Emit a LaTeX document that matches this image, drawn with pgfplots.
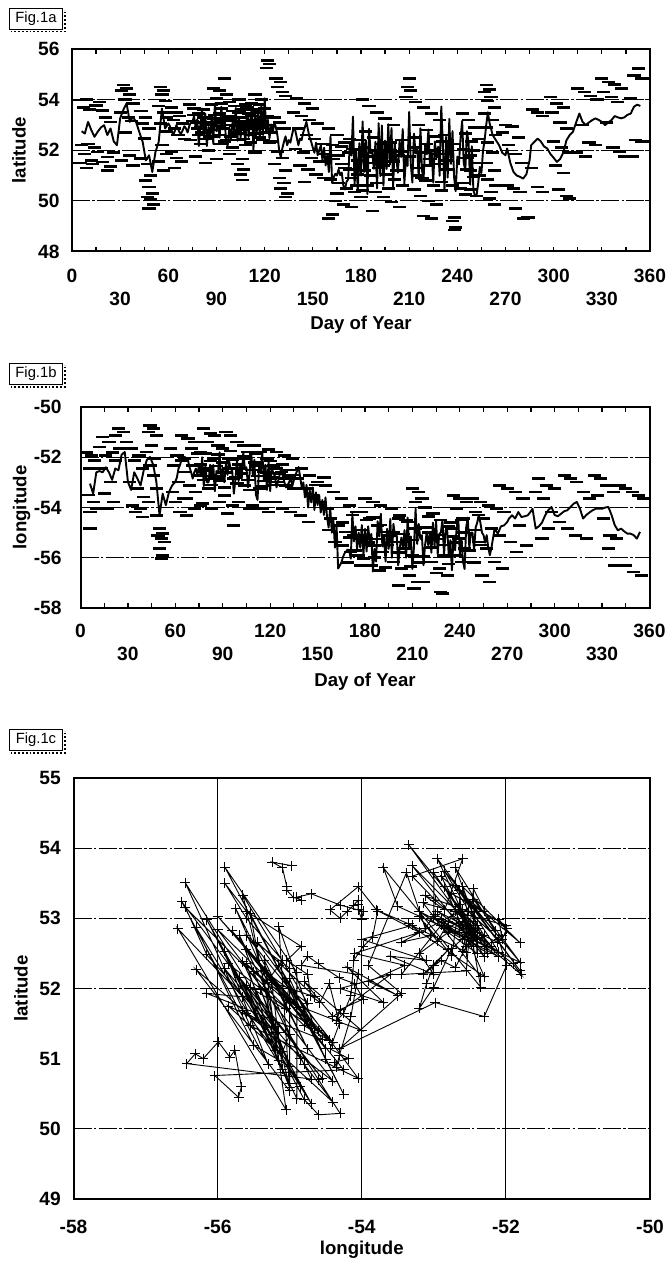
\documentclass[border=0pt]{standalone}
\usepackage{fontspec}
\setmainfont{Liberation Sans}
\usepackage{pgfplots}
\usepackage{pgfplotstable}
\pgfplotsset{compat=1.18}

\newcommand\tickfont{\bfseries\fontsize{9.6}{11}\selectfont}
\newcommand\lblfont{\bfseries\fontsize{9.3}{11}\selectfont}
\newcommand\figfont{\fontsize{7.4}{8.5}\selectfont}

% daily track: day of year, latitude, longitude
\pgfplotstableread[row sep=\\]{
day lat lon\\
6 52.75 -53.05\\ 8 52.66 -53.45\\ 10 53.12 -52.60\\ 12 52.80 -52.55\\ 14 52.53 -52.60\\
16 52.73 -52.40\\ 18 52.90 -52.60\\ 20 52.99 -52.90\\ 22 52.60 -52.45\\ 24 52.86 -52.52\\
26 52.35 -51.90\\ 28 52.20 -51.79\\ 30 53.26 -52.98\\ 32 53.60 -53.30\\ 34 53.85 -52.60\\
36 53.12 -52.85\\ 38 53.32 -53.12\\ 40 53.10 -52.52\\ 42 52.70 -52.10\\ 44 52.33 -51.99\\
46 51.60 -52.30\\ 48 51.80 -52.98\\ 50 51.14 -54.31\\ 52 51.93 -53.45\\ 54 52.33 -53.91\\
56 53.65 -53.38\\ 58 52.86 -53.12\\ 60 53.06 -52.98\\ 61 52.95 -52.80\\ 62 52.80 -52.45\\
63 52.60 -52.30\\ 64 52.75 -52.06\\ 65 52.99 -52.10\\ 66 52.85 -51.99\\ 67 52.70 -52.05\\
68 52.66 -52.12\\ 69 52.80 -52.40\\ 70 52.95 -52.60\\ 71 52.86 -52.85\\ 72 52.70 -52.60\\
73 52.95 -52.45\\ 74 53.10 -52.70\\ 75 53.10 -52.30\\ 76 53.35 -52.75\\ 77 52.90 -52.00\\
78 53.22 -53.15\\ 79 52.17 -52.35\\ 80 53.02 -53.00\\ 81 53.65 -53.00\\ 82 52.60 -52.30\\
83 53.45 -52.85\\ 84 52.17 -52.30\\ 85 52.92 -53.35\\ 86 52.52 -52.55\\ 87 53.40 -52.65\\
88 52.25 -51.80\\ 89 53.85 -52.95\\ 90 52.75 -52.45\\ 91 53.00 -53.00\\ 92 52.50 -52.25\\
93 53.72 -52.70\\ 94 52.82 -52.15\\ 95 53.42 -52.45\\ 96 52.25 -52.55\\ 97 52.20 -53.45\\
98 52.90 -52.90\\ 99 52.45 -52.10\\ 100 53.10 -52.95\\ 101 52.75 -52.30\\ 102 53.67 -52.85\\
103 52.37 -51.80\\ 104 53.27 -52.45\\ 105 52.50 -52.40\\ 106 53.10 -53.20\\ 107 52.80 -52.65\\
108 52.37 -51.80\\ 109 53.47 -52.70\\ 110 52.52 -52.10\\ 111 53.17 -53.50\\ 112 53.72 -53.70\\
113 52.02 -52.35\\ 114 53.45 -52.60\\ 115 52.65 -51.80\\ 116 53.60 -52.90\\ 117 52.45 -52.30\\
118 53.75 -53.30\\ 119 52.60 -52.20\\ 120 54.05 -53.35\\ 121 52.70 -52.40\\ 122 53.20 -52.65\\
123 52.47 -52.75\\ 124 53.02 -53.20\\ 125 52.67 -52.95\\ 126 53.12 -52.70\\ 127 52.90 -52.40\\
128 52.57 -52.75\\ 129 52.02 -53.00\\ 130 51.72 -53.20\\ 131 52.07 -53.10\\ 132 52.33 -53.00\\
133 52.55 -52.80\\ 134 52.20 -53.15\\ 135 52.40 -52.90\\ 136 52.30 -52.70\\ 137 52.60 -52.55\\
138 52.86 -52.39\\ 139 52.80 -52.80\\ 140 52.50 -53.20\\ 141 52.20 -53.00\\ 142 52.46 -53.60\\
143 52.40 -53.10\\ 144 52.70 -54.00\\ 145 52.90 -53.30\\ 146 53.12 -53.80\\ 147 52.80 -53.20\\
148 52.50 -54.10\\ 149 52.33 -53.40\\ 150 52.10 -53.90\\ 151 51.90 -53.50\\ 152 52.30 -54.20\\
153 51.80 -53.70\\ 154 52.00 -54.30\\ 155 52.20 -53.60\\ 156 51.60 -54.40\\ 157 52.10 -54.80\\
158 51.40 -54.00\\ 159 51.80 -55.00\\ 160 51.14 -54.50\\ 161 52.55 -55.60\\ 162 50.71 -54.70\\
163 50.93 -56.43\\ 164 51.07 -56.31\\ 165 51.00 -56.20\\ 166 51.24 -55.99\\ 167 51.02 -55.83\\
168 51.12 -55.76\\ 169 50.60 -55.67\\ 170 50.45 -55.71\\ 171 50.76 -56.04\\ 172 50.84 -54.25\\
173 52.25 -55.35\\ 174 51.79 -54.75\\ 175 53.33 -55.65\\ 176 50.59 -55.00\\ 177 52.05 -55.60\\
178 50.36 -54.70\\ 179 52.28 -55.90\\ 180 51.00 -54.85\\ 181 53.14 -55.75\\ 182 51.14 -54.75\\
183 52.40 -55.35\\ 184 50.27 -55.05\\ 185 52.85 -56.55\\ 186 51.88 -55.65\\ 187 51.93 -56.15\\
188 51.27 -54.55\\ 189 52.33 -55.15\\ 190 50.49 -54.25\\ 191 53.07 -55.55\\ 192 50.98 -55.15\\
193 52.98 -56.15\\ 194 50.60 -54.85\\ 195 52.38 -55.65\\ 196 51.26 -54.45\\ 197 53.03 -56.00\\
198 51.43 -54.65\\ 199 52.88 -55.15\\ 200 50.54 -55.00\\ 201 52.27 -56.30\\ 202 51.65 -55.60\\
203 51.11 -55.20\\ 204 52.35 -55.60\\ 205 51.73 -54.90\\ 206 52.84 -56.00\\ 207 50.68 -54.40\\
208 51.68 -55.65\\ 209 51.38 -55.15\\ 210 53.51 -56.45\\ 211 51.47 -55.55\\ 212 50.72 -54.05\\
213 52.66 -55.45\\ 214 51.88 -54.65\\ 215 52.09 -55.25\\ 216 50.85 -55.10\\ 217 52.87 -56.30\\
218 51.19 -55.50\\ 219 50.89 -55.00\\ 220 52.24 -55.50\\ 221 51.84 -55.00\\ 222 52.82 -55.80\\
223 51.40 -54.60\\ 224 52.02 -55.55\\ 225 50.72 -54.55\\ 226 52.35 -55.85\\ 227 51.72 -55.05\\
228 52.14 -55.00\\ 229 50.99 -54.50\\ 230 53.73 -55.90\\ 231 52.23 -54.90\\ 232 50.43 -54.90\\
233 52.53 -55.90\\ 234 50.92 -55.30\\ 235 53.24 -56.50\\ 236 51.46 -55.20\\ 237 52.76 -55.70\\
238 50.92 -54.80\\ 239 50.38 -54.40\\ 240 51.75 -55.85\\ 241 51.44 -55.25\\ 242 52.48 -56.15\\
243 53.16 -56.45\\ 244 51.47 -54.80\\ 245 51.23 -54.40\\ 246 52.75 -55.60\\ 247 52.29 -55.00\\
248 50.64 -55.00\\ 249 52.16 -55.70\\ 250 50.42 -54.80\\ 251 50.20 -54.60\\ 252 50.22 -54.30\\
253 50.70 -54.60\\ 254 51.34 -55.00\\ 255 51.10 -55.10\\ 256 51.98 -55.40\\ 257 52.40 -55.10\\
258 53.00 -55.60\\ 259 53.50 -55.90\\ 260 53.10 -55.60\\ 262 52.60 -54.84\\ 264 52.40 -55.04\\
266 52.20 -54.75\\ 268 51.90 -54.71\\ 270 51.80 -54.58\\ 271 52.07 -54.45\\ 273 51.50 -54.31\\
275 51.14 -54.44\\ 277 51.00 -54.18\\ 279 50.95 -54.38\\ 281 50.88 -54.35\\ 283 51.05 -54.31\\
285 51.60 -54.15\\ 286 52.20 -54.05\\ 288 52.33 -54.84\\ 290 52.46 -54.75\\ 292 52.35 -54.60\\
294 52.15 -54.31\\ 296 52.07 -54.10\\ 298 51.85 -53.98\\ 300 51.70 -54.30\\ 302 51.54 -54.35\\
304 51.65 -54.25\\ 306 51.90 -54.15\\ 308 52.40 -54.11\\ 310 52.60 -53.98\\ 312 52.73 -53.85\\
314 53.10 -53.78\\ 316 53.45 -54.05\\ 318 53.12 -54.44\\ 320 53.00 -54.30\\ 322 53.10 -54.20\\
324 53.19 -54.11\\ 326 53.26 -54.05\\ 328 53.20 -54.05\\ 330 53.12 -54.05\\ 332 52.99 -54.00\\
334 53.10 -53.98\\ 336 53.19 -54.30\\ 338 53.35 -54.70\\ 340 53.30 -54.91\\ 342 53.26 -54.84\\
344 53.30 -54.95\\ 346 53.40 -55.04\\ 348 53.45 -55.04\\ 350 53.72 -55.10\\ 352 53.80 -55.24\\
354 53.75 -54.97\\
}\track

\tikzset{
  hgrid/.style={line width=0.45pt, black, dash pattern=on 9pt off 1.2pt on 1.2pt off 1.2pt},
  figbox/.style={draw, line width=0.5pt, font=\figfont, inner sep=0pt,
    minimum width=26.5pt, minimum height=10.5pt, anchor=north west},
  fix/.style={only marks, mark=-, mark size=3.3pt, mark options={line width=1.3pt, black}},
  daily/.style={black, line width=0.95pt, no marks, line join=round},
}
\pgfplotsset{
  panel/.style={
    scale only axis,
    axis line style={line width=1pt},
    tick align=inside,
    major tick length=2.4pt,
    minor tick length=2.4pt,
    tick style={line width=0.6pt, black},
    ticklabel style={font=\tickfont, inner sep=0pt},
    label style={font=\lblfont},
  },
}

\begin{document}
\begin{tikzpicture}
\useasboundingbox (0,0) rectangle (333pt,-631pt);

% ---------- Fig.1a: latitude against day of year ----------
\node[figbox] (fa) at (4.5pt,-4pt) {Fig.1a};
\draw[line width=0.9pt, densely dotted] ([shift={(0.8pt,-0.8pt)}]fa.south west) -- ([shift={(0.8pt,-0.8pt)}]fa.south east) -- ([shift={(0.8pt,-0.8pt)}]fa.north east);
\begin{axis}[panel,
  at={(36pt,-24.5pt)}, anchor=north west, width=289pt, height=101.25pt,
  xmin=0, xmax=360, ymin=48, ymax=56,
  xtick={0,60,...,360}, xticklabels={0,60,120,180,240,300,360},
  minor xtick={15,45,...,345},
  extra x ticks={30,90,...,330}, extra x tick labels={30,90,150,210,270,330},
  extra x tick style={xticklabel style={yshift=-11.5pt}},
  xticklabel style={anchor=center, yshift=-12.2pt},
  ytick={48,50,52,54,56}, yticklabels={48,50,52,54,56},
  yticklabel style={anchor=east, xshift=-6pt},
  ymajorgrids, major grid style={hgrid},
  xlabel={Day of Year}, ylabel={latitude},
  xlabel style={at={([yshift=-36.5pt]axis description cs:0.5,0)}, anchor=center},
  ylabel style={at={([xshift=-26.5pt]axis description cs:0,0.5)}, anchor=center},
]
% individual position fixes
\addplot[fix] coordinates {
(5,53.98) (9,54.0) (7,53.7) (11,53.6) (6,52.2) (10,52.25) (8,51.85) (12,51.6) (9,51.3) (5,51.5) (13,51.45)
(15,53.77) (19,53.57) (21,53.3) (24,53.12) (17,53.9) (16,51.93) (22,51.73) (19,51.54) (24,51.35) (22,51.2) (26,51.9) (14,52.1)
(32,54.57) (34,54.45) (31,54.35) (36,54.2) (33,54.0) (38,53.85) (30,53.5) (35,53.3) (37,53.15) (33,52.7) (36,51.8) (31,51.6) (38,51.4)
(43,53.55) (46,53.3) (44,53.05) (48,52.85) (45,52.46) (43,51.67) (47,51.45) (49,51.0) (46,50.8) (48,50.55) (50,50.3) (47,50.15) (49,50.05) (51,49.85) (48,49.7)
(55,54.5) (57,54.35) (56,54.2) (58,53.95) (54,53.75) (57,53.5) (59,53.3) (55,53.05) (58,52.75) (56,52.2) (59,51.85) (54,51.55) (57,51.2)
(62,53.7) (65,53.5) (67,53.35) (63,53.2) (69,53.05) (64,52.85) (66,52.6) (70,52.45) (62,51.95) (65,51.7) (68,51.55) (64,51.3)
(73,53.8) (76,53.65) (79,53.45) (82,53.3) (75,53.15) (84,53.0) (78,52.85) (81,52.7) (86,52.55) (74,52.4) (80,52.25) (85,52.0) (77,51.75) (83,51.5)
(88,54.44) (92,54.35) (96,54.2) (90,54.05) (95,54.84) (98,53.9) (87,53.8) (93,53.65) (100,53.55) (89,53.4) (97,53.25) (91,53.1) (99,53.0) (94,52.85) (101,52.7) (88,52.55) (96,52.4) (92,52.25) (100,52.1) (98,51.85) (90,51.65)
(104,54.0) (108,53.8) (106,53.6) (110,53.45) (103,53.3) (107,53.15) (109,52.95) (105,52.8) (111,52.6) (104,52.4) (108,52.2) (106,51.65) (103,51.45) (107,51.25) (105,51.05) (106,50.82)
(114,54.2) (118,54.0) (112,53.85) (120,53.65) (116,53.5) (122,53.35) (113,53.2) (119,53.0) (115,52.85) (121,52.7) (117,52.5) (123,52.3) (114,51.9) (122,55.55) (123,55.4) (121,55.25)
(127,54.84) (130,54.7) (128,54.5) (131,54.3) (133,54.15) (126,53.3) (129,53.1) (132,52.85) (125,52.35) (128,51.95) (131,51.7) (126,51.45) (133,51.2) (129,50.9) (132,50.7) (130,50.5) (134,50.3) (133,50.15)
(140,54.05) (145,53.85) (150,53.65) (138,53.5) (143,53.35) (148,53.2) (153,53.05) (141,52.85) (146,52.6) (151,52.45) (156,52.25) (139,52.05) (144,51.9) (149,51.7) (154,51.55) (142,51.4) (147,51.25) (152,51.05) (157,50.9) (145,50.75)
(160,52.85) (165,52.6) (170,52.3) (175,52.05) (158,51.85) (163,51.65) (168,51.45) (173,51.25) (178,51.05) (161,50.85) (166,50.7) (171,50.5) (176,50.35) (180,50.15) (164,50.0) (169,49.85) (174,49.75) (160,49.3) (162,49.45) (177,50.6) (172,51.9) (179,52.4)
(181,54.0) (185,53.75) (190,53.5) (195,53.25) (200,53.0) (183,52.75) (188,52.5) (193,52.25) (198,52.0) (203,51.8) (186,51.5) (191,51.3) (196,51.05) (201,50.85) (184,50.6) (189,50.35) (194,50.15) (199,49.95) (204,49.75) (187,49.6) (205,52.4) (182,51.2)
(210,54.84) (209,54.5) (211,54.35) (208,54.1)
(214,53.9) (219,53.7) (224,53.45) (229,53.2) (216,53.0) (221,52.8) (226,52.55) (231,52.35) (213,52.1) (218,51.9) (223,51.65) (228,51.45) (233,51.25) (215,51.0) (220,50.8) (225,50.6) (230,50.4) (217,50.2) (222,50.0) (227,49.85) (219,49.4) (224,49.3)
(238,49.35) (237,49.2) (239,48.95) (238,48.85)
(243,53.45) (247,53.2) (251,52.9) (245,52.65) (249,52.35) (244,52.05) (248,51.8) (252,51.5) (246,51.25) (250,50.95) (244,50.7) (248,50.45) (252,50.2)
(258,54.57) (260,54.4) (257,54.3) (261,54.1) (259,53.95) (263,53.7) (257,53.45) (262,53.2) (258,52.9) (264,52.6) (259,52.3) (262,51.9) (258,51.5) (263,51.2) (259,50.85) (264,50.6) (261,50.35) (260,50.1) (263,49.85)
(270,53.0) (274,52.93) (268,52.7) (278,52.5) (272,52.2) (276,51.85) (280,51.5) (271,50.6) (275,50.5) (279,50.35) (276,49.7) (281,49.3) (284,49.35)
(287,53.6) (290,53.5) (293,53.35) (286,51.3) (290,50.55) (293,50.35)
(298,54.1) (302,53.85) (306,53.7) (299,53.5) (304,53.1) (308,52.85) (300,52.35) (305,52.1) (309,51.9) (301,51.4) (306,51.1) (303,50.45) (308,50.2) (310,50.1)
(315,54.44) (319,54.3) (323,54.15) (327,54.0) (318,53.0) (322,52.3) (326,52.2) (314,51.9) (320,51.75)
(330,54.84) (334,54.7) (338,54.6) (342,54.45) (331,54.3) (336,54.1) (340,53.9) (333,53.1) (337,52.1) (341,51.95) (344,51.75)
(353,55.24) (350,54.95) (355,54.84) (348,54.05) (351,52.4) (355,52.35) (349,51.75)
(76,53.4) (78,53.1) (80,52.9) (82,53.6) (84,53.3) (86,53.1) (88,53.25) (90,52.95) (92,53.45) (94,53.2) (96,53.0) (98,53.35) (100,53.15) (102,52.95) (104,53.5) (106,53.3) (108,53.05) (110,52.85) (112,53.35) (114,53.6) (116,53.15) (118,52.9) (120,53.3) (122,53.0) (124,52.7)
(79,52.6) (83,52.45) (87,52.8) (91,52.6) (95,52.35) (99,52.55) (103,52.65) (107,52.45) (111,52.3) (115,52.65) (119,52.4) (93,53.85) (101,53.75) (109,53.7) (117,53.8)
(162,52.2) (166,51.8) (170,51.3) (174,50.9) (178,51.6) (182,52.1) (186,51.0) (190,50.7) (194,51.4) (198,52.3) (202,51.2) (206,50.6) (210,51.75) (214,52.5) (218,50.9) (222,51.4) (226,52.0) (230,50.75) (234,51.6) (238,52.25) (242,50.5) (246,51.7) (250,52.0) (254,51.0)
(165,50.3) (173,52.45) (181,50.4) (189,52.0) (197,50.5) (205,51.95) (213,50.45) (221,52.25) (229,51.85) (237,50.6) (245,50.25) (253,52.45) (168,52.15) (184,51.75) (200,51.55) (216,51.3) (232,52.6) (248,51.2)
};
% daily position
\addplot[daily] table[x=day, y=lat] {\track};
\end{axis}

% ---------- Fig.1b: longitude against day of year ----------
\node[figbox] (fb) at (4.5pt,-181.5pt) {Fig.1b};
\draw[line width=0.9pt, densely dotted] ([shift={(0.8pt,-0.8pt)}]fb.south west) -- ([shift={(0.8pt,-0.8pt)}]fb.south east) -- ([shift={(0.8pt,-0.8pt)}]fb.north east);
\begin{axis}[panel,
  at={(40.25pt,-203.5pt)}, anchor=north west, width=284.5pt, height=100.5pt,
  xmin=0, xmax=360, ymin=-58, ymax=-50,
  xtick={0,60,...,360}, xticklabels={0,60,120,180,240,300,360},
  minor xtick={15,45,...,345},
  extra x ticks={30,90,...,330}, extra x tick labels={30,90,150,210,270,330},
  extra x tick style={xticklabel style={yshift=-11.5pt}},
  xticklabel style={anchor=center, yshift=-11.5pt},
  ytick={-58,-56,-54,-52,-50}, yticklabels={-58,-56,-54,-52,-50},
  yticklabel style={anchor=east, xshift=-9.3pt},
  ymajorgrids, major grid style={hgrid},
  xlabel={Day of Year}, ylabel={longitude},
  xlabel style={at={([yshift=-37pt]axis description cs:0.5,0)}, anchor=center},
  ylabel style={at={([xshift=-29.5pt]axis description cs:0,0.5)}, anchor=center},
]
% individual position fixes
\addplot[fix] coordinates {
(4,-51.8) (7,-51.92) (9,-52.12) (6,-52.45) (5,-53.5) (8,-53.78) (10,-54.05) (6,-54.18) (6,-54.84)
(14,-51.19) (18,-51.39) (12,-51.6) (20,-51.8) (16,-51.92) (22,-52.12) (13,-52.45) (19,-52.98) (15,-53.45) (21,-53.78) (17,-54.05)
(24,-50.86) (27,-51.0) (22,-51.13) (29,-51.39) (25,-51.66)
(32,-51.66) (37,-51.92) (34,-52.12) (39,-52.45) (31,-52.98) (36,-53.25) (40,-53.58) (33,-53.91) (38,-54.05) (35,-54.18) (39,-54.38)
(44,-50.73) (46,-50.86) (43,-51.0) (48,-51.13) (45,-51.53) (42,-51.79) (47,-52.06) (44,-52.32) (46,-52.72) (48,-53.25) (43,-53.78)
(48,-54.31) (50,-54.84) (52,-55.04) (49,-55.11) (51,-55.24) (53,-55.37) (50,-55.64) (52,-55.90) (51,-56.04)
(57,-51.66) (61,-51.92) (64,-52.12) (59,-52.32) (66,-52.59) (62,-52.98) (58,-53.38) (65,-53.65) (60,-53.78) (63,-54.18) (67,-54.31)
(64,-51.13) (68,-51.26) (72,-51.39) (70,-51.66) (74,-51.86) (66,-52.06) (71,-52.32) (75,-52.72) (69,-53.12) (73,-53.38) (67,-53.65) (76,-53.91) (72,-54.05)
(78,-50.86) (82,-51.06) (85,-51.13) (80,-51.39) (87,-51.53) (76,-51.79) (84,-52.06) (79,-52.45) (86,-52.85) (81,-53.25) (88,-53.78) (77,-53.85) (83,-54.05)
(92,-50.99) (95,-51.13) (99,-51.39) (103,-51.53) (90,-51.66) (106,-51.79) (94,-52.06) (101,-52.45) (97,-52.85) (104,-53.12) (91,-53.52) (100,-53.78) (96,-53.91) (107,-54.05) (93,-54.25) (97,-54.71)
(110,-51.53) (114,-51.79) (118,-52.06) (111,-52.32) (116,-52.59) (120,-52.85) (113,-53.25) (117,-53.78) (109,-53.91) (115,-54.05) (119,-54.18)
(124,-51.79) (129,-51.92) (134,-52.06) (122,-52.32) (127,-52.59) (132,-52.72) (137,-52.85) (125,-52.98) (130,-53.12) (135,-53.25) (123,-53.78) (128,-54.05) (133,-54.18)
(140,-52.45) (145,-52.72) (150,-52.98) (142,-53.25) (147,-53.52) (152,-53.78) (156,-54.05) (139,-54.31) (144,-54.58) (149,-53.1) (154,-52.8)
(155,-53.12) (160,-53.38) (165,-53.65) (170,-53.91) (175,-54.18) (158,-54.44) (163,-54.71) (168,-54.97) (173,-55.11) (178,-55.24) (161,-55.37) (166,-55.51) (171,-55.77) (176,-55.90) (181,-54.5) (157,-54.9)
(180,-53.65) (185,-53.78) (190,-53.91) (178,-54.18) (183,-54.44) (188,-54.71) (193,-54.97) (181,-55.24) (186,-55.51) (191,-55.77) (179,-56.04) (184,-56.30) (189,-56.5)
(197,-54.05) (202,-54.31) (207,-54.58) (212,-54.84) (195,-55.11) (200,-55.37) (205,-55.64) (210,-55.90) (198,-56.17) (203,-56.44) (208,-56.70) (213,-56.97) (201,-57.1) (211,-57.23)
(210,-53.25) (214,-53.38) (216,-53.65) (212,-53.78)
(218,-54.0) (223,-54.25) (228,-54.5) (233,-54.75) (220,-55.0) (225,-55.25) (230,-55.5) (235,-55.9) (222,-56.17) (227,-56.44) (232,-56.70) (217,-56.97) (228,-57.36) (229,-57.43)
(236,-53.52) (240,-53.65) (244,-53.78) (238,-54.05) (242,-54.44) (235,-54.84) (239,-55.24) (243,-55.64) (237,-55.90) (241,-56.17)
(248,-53.65) (253,-53.78) (258,-53.91) (263,-54.05) (250,-54.18) (255,-54.44) (260,-54.84) (265,-55.11) (252,-55.37) (257,-55.64) (262,-56.17) (267,-56.44) (254,-56.70) (259,-56.97)
(265,-53.12) (270,-53.25) (275,-53.38) (280,-53.65) (268,-54.18) (278,-54.71) (272,-55.37) (282,-55.51) (276,-55.77)
(290,-52.85) (295,-53.12) (300,-53.25) (288,-53.38) (293,-53.65) (298,-54.18) (303,-54.58) (296,-54.84) (292,-55.24)
(306,-52.72) (310,-52.85) (314,-52.98) (318,-53.38) (322,-53.65) (308,-54.84) (313,-55.11) (320,-55.24)
(325,-52.72) (329,-52.85) (333,-53.12) (337,-53.38) (327,-53.52) (331,-54.44) (335,-55.11) (339,-55.24) (334,-55.64) (338,-56.30)
(341,-53.12) (345,-53.25) (349,-53.38) (353,-53.52) (356,-53.65) (345,-56.30) (350,-56.57) (355,-56.70)
(76,-52.3) (78,-52.9) (80,-52.55) (82,-52.15) (84,-52.75) (86,-52.35) (88,-52.95) (90,-52.2) (92,-52.6) (94,-52.45) (96,-52.1) (98,-52.8) (100,-52.3) (102,-52.65) (104,-52.05) (106,-52.9) (108,-52.5) (110,-52.2) (112,-52.75) (114,-52.35) (116,-52.95) (118,-52.6) (120,-52.15) (122,-52.8) (124,-52.45) (126,-52.65) (128,-52.3) (130,-52.85) (132,-52.5) (134,-52.7)
(79,-51.85) (87,-51.9) (95,-51.75) (103,-51.95) (111,-51.85) (119,-51.7) (83,-53.1) (91,-53.2) (99,-53.05) (107,-53.3) (115,-53.15) (123,-53.1)
(166,-54.6) (170,-55.2) (174,-55.7) (178,-54.9) (182,-55.4) (186,-56.0) (190,-54.7) (194,-55.5) (198,-55.0) (202,-55.8) (206,-54.5) (210,-55.3) (214,-56.2) (218,-54.8) (222,-55.6) (226,-55.1) (230,-55.9) (234,-54.6) (238,-55.4) (242,-55.0) (246,-55.7) (250,-54.9) (254,-55.5)
(169,-56.2) (177,-56.3) (185,-54.4) (193,-56.4) (201,-54.45) (209,-56.35) (217,-55.95) (225,-56.6) (233,-56.25) (241,-54.5) (249,-56.2) (172,-54.3) (188,-55.25) (204,-55.05) (220,-54.35) (236,-55.15) (252,-54.3)
};
% daily position
\addplot[daily] table[x=day, y=lon] {\track};
\end{axis}

% ---------- Fig.1c: track in latitude and longitude ----------
\node[figbox] (fc) at (4.5pt,-364.5pt) {Fig.1c};
\draw[line width=0.9pt, densely dotted] ([shift={(0.8pt,-0.8pt)}]fc.south west) -- ([shift={(0.8pt,-0.8pt)}]fc.south east) -- ([shift={(0.8pt,-0.8pt)}]fc.north east);
\begin{axis}[panel,
  at={(36.75pt,-389pt)}, anchor=north west, width=288.25pt, height=210.5pt,
  xmin=-58, xmax=-50, ymin=49, ymax=55,
  xtick={-58,-56,-54,-52,-50}, xticklabels={-58,-56,-54,-52,-50},
  xticklabel style={anchor=center, yshift=-13.8pt},
  ytick={49,50,51,52,53,54,55}, yticklabels={49,50,51,52,53,54,55},
  yticklabel style={anchor=east, xshift=-6.2pt},
  major tick length=0pt,
  xmajorgrids, major grid style={line width=0.5pt, black},
  xlabel={longitude}, ylabel={latitude},
  xlabel style={at={([yshift=-25.5pt]axis description cs:0.5,0)}, anchor=center},
  ylabel style={at={([xshift=-26.2pt]axis description cs:0,0.5)}, anchor=center},
]
\draw[hgrid] (axis cs:-58,50) -- (axis cs:-50,50);
\draw[hgrid] (axis cs:-58,52) -- (axis cs:-50,52);
\draw[hgrid] (axis cs:-58,53) -- (axis cs:-50,53);
\draw[hgrid] (axis cs:-58,54) -- (axis cs:-50,54);
\addplot[black, line width=0.45pt, mark=+, mark size=2.5pt, mark options={line width=0.5pt}]
  table[x=lon, y=lat] {\track};
\end{axis}
\end{tikzpicture}
\end{document}
